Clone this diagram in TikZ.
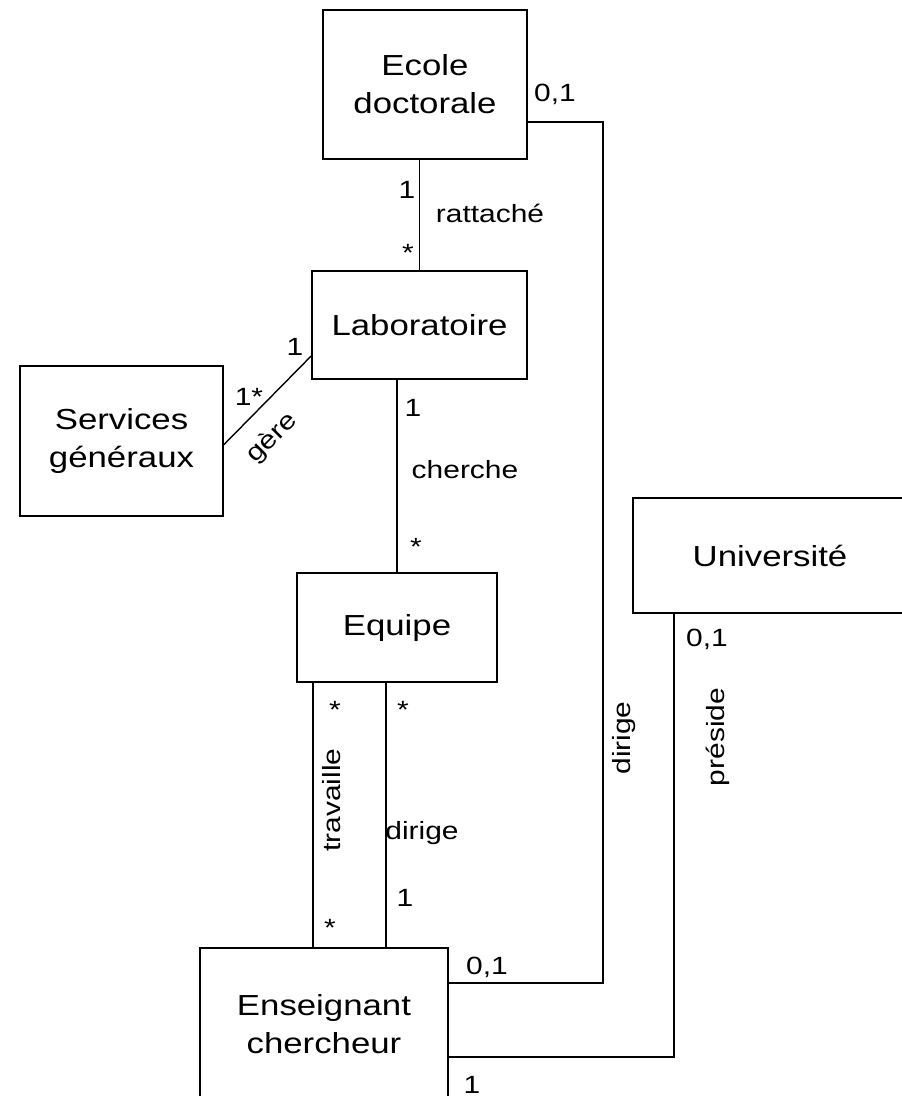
\documentclass[tikz,border=0pt]{standalone}
\usepackage{fontspec}
\setmainfont{Liberation Sans}[FakeStretch=1.2]
\usetikzlibrary{calc}
\begin{document}
\begin{tikzpicture}[x=0.02cm,y=-0.02cm,
  entite/.style={draw,line width=1.1pt,align=center,inner sep=0pt,font=\fontsize{16.5}{21.6}\selectfont},
  mult/.style={inner sep=0pt,font=\fontsize{14.2}{17}\selectfont},
  lien/.style={line width=1.1pt}]
  \useasboundingbox (0,0) rectangle (902,1096);
  \fill[white] (0,0) rectangle (902,1096);
  % classes
  \node[entite,minimum width=4.08cm,minimum height=2.98cm] (ecole) at (425,84.5) {Ecole\\doctorale};
  \node[entite,minimum width=4.3cm,minimum height=2.16cm] (labo) at (419.5,325) {Laboratoire};
  \node[entite,minimum width=4.06cm,minimum height=3cm] (services) at (121.5,441) {Services\\généraux};
  \node[entite,minimum width=4cm,minimum height=2.18cm] (equipe) at (397,627.5) {Equipe};
  \node[entite,minimum width=5.48cm,minimum height=2.3cm] (univ) at (770,555.5) {Université};
  \node[entite,minimum width=4.96cm,minimum height=3.04cm] (ens) at (324,1024) {Enseignant\\chercheur};
  % associations
  \draw[lien] (ecole.south -| labo.north) -- (labo.north);
  \draw[lien] (labo.south -| equipe.north) -- (equipe.north);
  \draw[lien,line width=0.8pt] (labo.196) -- (services.358);
  \coordinate (trav) at ($(equipe.south west)+(17,0)$);
  \coordinate (dir) at ($(equipe.south)+(-11,0)$);
  \draw[lien] (trav) -- (trav |- ens.north);
  \draw[lien] (dir) -- (dir |- ens.north);
  \draw[lien] ($(ecole.east)+(0,37.5)$) -- ++(75,0) |- ($(ens.east)+(0,-41)$);
  \draw[lien] ($(univ.south west)+(42,0)$) |- ($(ens.east)+(0,33)$);
  % multiplicites et roles
  \node[mult] (m1) at (407,190) {1};
  \node[mult] (m2) at (408,253) {*};
  \node[mult] (r1) at (490,213) {rattaché};
  \node[mult] (m3) at (555,94) {0,1};
  \node[mult] (m4) at (295,347) {1};
  \node[mult] (m5) at (249,397) {1*};
  \node[mult,rotate=45] (r2) at (272,438) {gère};
  \node[mult] (m6) at (413,408) {1};
  \node[mult] (r3) at (465,470) {cherche};
  \node[mult] (m7) at (416,547) {*};
  \node[mult] (m8) at (335,710) {*};
  \node[mult] (m9) at (403,710) {*};
  \node[mult,rotate=90] (r4) at (332,800) {travaille};
  \node[mult] (r5) at (422,833) {dirige};
  \node[mult] (m10) at (405,898) {1};
  \node[mult] (m11) at (330,928) {*};
  \node[mult] (m12) at (487,967) {0,1};
  \node[mult] (m13) at (472,1085) {1};
  \node[mult,rotate=90] (r6) at (624,738) {dirige};
  \node[mult] (m14) at (707,639) {0,1};
  \node[mult,rotate=90] (r7) at (718,737) {préside};
\end{tikzpicture}
\end{document}
